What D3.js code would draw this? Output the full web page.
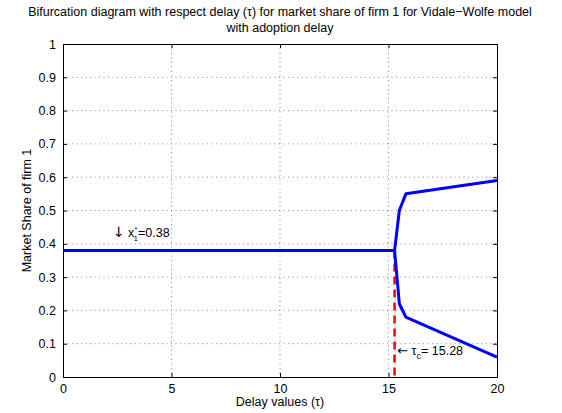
<!DOCTYPE html>
<html>
<head>
<meta charset="utf-8">
<script src="https://cdn.jsdelivr.net/npm/d3@7"></script>
<style>
  html, body { margin: 0; padding: 0; background: #fff; }
  svg { display: block; font-family: "Liberation Sans", Arial, Helvetica, sans-serif; }
</style>
</head>
<body>
<svg id="chart" width="562" height="413"></svg>
<script>
// Steady state before the Hopf point, then the two branches of the oscillation envelope
const stableTau = [0, 15.28];
const stableShare = [0.38, 0.38];
const upperTau = [15.28, 15.5, 15.8, 20];
const upperShare = [0.38, 0.50, 0.55, 0.59];
const lowerTau = [15.28, 15.5, 15.8, 20];
const lowerShare = [0.38, 0.22, 0.18, 0.06];
const criticalTau = 15.28;
const equilibrium = 0.38;
const xTicks = [0, 5, 10, 15, 20];
const yTicks = [0, 0.1, 0.2, 0.3, 0.4, 0.5, 0.6, 0.7, 0.8, 0.9, 1];

const svg = d3.select("#chart");
const m = { left: 63, right: 497, top: 44, bottom: 377 };

const x = d3.scaleLinear().domain([0, 20]).range([m.left, m.right]);
const y = d3.scaleLinear().domain([0, 1]).range([m.bottom, m.top]);

// dotted grid
const grid = svg.append("g").attr("stroke", "#888").attr("stroke-width", 1)
  .attr("stroke-dasharray", "1,3.5");
xTicks.slice(1, -1).forEach(t => grid.append("line")
  .attr("x1", x(t)).attr("x2", x(t)).attr("y1", m.top).attr("y2", m.bottom));
yTicks.slice(1, -1).forEach(t => grid.append("line")
  .attr("x1", m.left).attr("x2", m.right).attr("y1", y(t)).attr("y2", y(t)));

// axes with inward ticks
const xAxis = d3.axisBottom(x).tickValues(xTicks).tickSize(-4).tickPadding(7).tickFormat(d3.format("d"));
const yAxis = d3.axisLeft(y).tickValues(yTicks).tickSize(-4).tickPadding(7).tickFormat(d => d === 0 || d === 1 ? d3.format("d")(d) : d3.format(".1f")(d));
const xTop = d3.axisTop(x).tickValues(xTicks).tickSize(-4).tickFormat("");
const yRight = d3.axisRight(y).tickValues(yTicks).tickSize(-4).tickFormat("");

function style(g) {
  g.select(".domain").attr("stroke", "#000");
  g.selectAll(".tick line").attr("stroke", "#000");
  g.selectAll(".tick text").attr("fill", "#000").attr("font-size", 12.5);
}
svg.append("g").attr("transform", `translate(0,${m.bottom})`).call(xAxis).call(style);
svg.append("g").attr("transform", `translate(${m.left},0)`).call(yAxis).call(style);
svg.append("g").attr("transform", `translate(0,${m.top})`).call(xTop).call(style);
svg.append("g").attr("transform", `translate(${m.right},0)`).call(yRight).call(style);
svg.selectAll(".domain").attr("stroke-width", 1);

const line = d3.line().x(d => x(d[0])).y(d => y(d[1]));
const zip = (a, b) => a.map((v, i) => [v, b[i]]);

// critical delay marker
svg.append("path")
  .datum([[criticalTau, equilibrium], [criticalTau, 0]])
  .attr("d", line).attr("fill", "none")
  .attr("stroke", "#ff0000").attr("stroke-width", 2.5).attr("stroke-dasharray", "8,5");

[zip(stableTau, stableShare), zip(upperTau, upperShare), zip(lowerTau, lowerShare)].forEach(pts => {
  svg.append("path").datum(pts).attr("d", line).attr("fill", "none")
    .attr("stroke", "#0000ff").attr("stroke-width", 3).attr("stroke-linejoin", "round");
});

// annotations
const a1 = svg.append("text").attr("x", x(2.3)).attr("y", y(0.42)).attr("font-size", 12.5).attr("fill", "#000");
a1.append("tspan").attr("font-family", "DejaVu Sans").attr("font-size", 14).text("↓");
a1.append("tspan").text(" x");
a1.append("tspan").attr("dy", -5).attr("font-size", 7).text("*");
a1.append("tspan").attr("dy", 9).attr("dx", -3.5).attr("font-size", 8).text("1");
a1.append("tspan").attr("dy", -4).text("=" + equilibrium.toFixed(2));

const a2 = svg.append("text").attr("x", x(15.4)).attr("y", y(0.065)).attr("font-size", 12.5).attr("fill", "#000");
a2.append("tspan").attr("font-family", "DejaVu Sans").attr("font-size", 13).text("←");
a2.append("tspan").text(" τ");
a2.append("tspan").attr("dy", 4).attr("font-size", 9).text("c");
a2.append("tspan").attr("dy", -4).text("= " + criticalTau.toFixed(2));

// titles
svg.append("text").attr("x", 280).attr("y", 16).attr("text-anchor", "middle").attr("font-size", 12.5)
  .text("Bifurcation diagram with respect delay (τ) for market share of firm 1 for Vidale−Wolfe model");
svg.append("text").attr("x", 280).attr("y", 32).attr("text-anchor", "middle").attr("font-size", 12.5)
  .text("with adoption delay");
svg.append("text").attr("x", 280).attr("y", 406).attr("text-anchor", "middle").attr("font-size", 12.5)
  .text("Delay values (τ)");
svg.append("text").attr("transform", `translate(31,${(m.top + m.bottom) / 2}) rotate(-90)`)
  .attr("text-anchor", "middle").attr("font-size", 12.5).text("Market Share of firm 1");
</script>
</body>
</html>
